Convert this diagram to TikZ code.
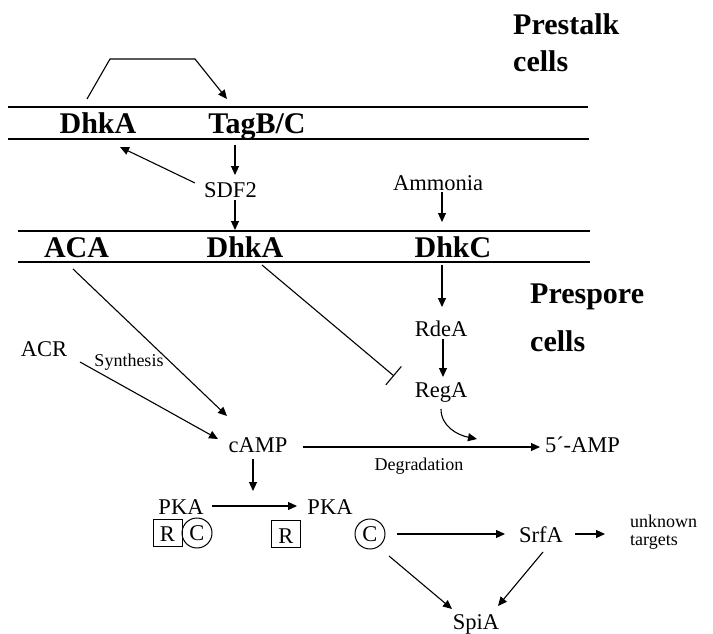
\documentclass[tikz,border=0pt]{standalone}
\usepackage{fontspec}
\setmainfont{Liberation Serif}
\usetikzlibrary{arrows.meta}
\begin{document}
\begin{tikzpicture}[x=1pt,y=-1pt,
  big/.style={font=\fontsize{30}{36}\selectfont\bfseries,inner sep=0pt,anchor=base},
  txt/.style={font=\fontsize{22.5}{27}\selectfont,inner sep=0pt,anchor=base},
  lbl/.style={font=\fontsize{18}{20}\selectfont,inner sep=0pt,anchor=base},
  memb/.style={line width=1.5pt},
  arr/.style={line width=1.1pt,-{Triangle[length=9pt,width=8pt]}},
  inh/.style={line width=1.1pt,-{Bar[width=24pt,line width=1.1pt]}},
  rbox/.style={draw,line width=1pt,minimum width=29pt,minimum height=27pt,inner sep=0pt,text height=18pt,text depth=0pt,font=\fontsize{22.5}{27}\selectfont},
  cbox/.style={draw,circle,line width=1pt,minimum size=30pt,inner sep=0pt,font=\fontsize{22.5}{27}\selectfont}
]
\useasboundingbox (0,0) rectangle (713,634);

% region titles
\node[big,anchor=base west] (prestalk) at (513,35) {Prestalk};
\node[big,anchor=base west] (pstcells) at (513,72) {cells};
\node[big,anchor=base west] (prespore) at (530,303) {Prespore};
\node[big,anchor=base west] (pspcells) at (530,351) {cells};

% membranes
\draw[memb] (8,107) -- (588,107);
\draw[memb] (8,139) -- (589,139);
\draw[memb] (18,231) -- (590,231);
\draw[memb] (18,262) -- (590,262);

% membrane proteins
\node[big] (dhkA1) at (98,133) {DhkA};
\node[big] (tag) at (257,133) {TagB/C};
\node[big] (aca) at (76.5,257) {ACA};
\node[big] (dhkA2) at (245,257) {DhkA};
\node[big] (dhkC) at (453,257) {DhkC};

% other nodes
\node[txt] (sdf2) at (230.5,197) {SDF2};
\node[txt] (ammonia) at (438,190) {Ammonia};
\node[txt] (acr) at (44,356) {ACR};
\node[lbl] (synth) at (129,366) {Synthesis};
\node[txt] (rdea) at (441,336) {RdeA};
\node[txt] (rega) at (441,397) {RegA};
\node[txt] (camp) at (258,452) {cAMP};
\node[txt] (amp5) at (582.5,452) {5´-AMP};
\node[lbl] (degr) at (419,470) {Degradation};
\node[txt] (pka1) at (181,514) {PKA};
\node[txt] (pka2) at (330,514) {PKA};
\node[rbox] (r1) at (167.5,532.5) {R};
\node[cbox] (c1) at (197,533) {C};
\node[rbox] (r2) at (286,534) {R};
\node[cbox] (c2) at (370,534) {C};
\node[txt] (srfa) at (541,542) {SrfA};
\node[lbl,anchor=base west] (unk) at (630,527) {unknown};
\node[lbl,anchor=base west] (tgt) at (630,545) {targets};
\node[txt] (spia) at (476,629) {SpiA};

% connector end points
\coordinate (bA) at (87,99);
\coordinate (bB) at (110,59);
\coordinate (bC) at (195,59);
\coordinate (bD) at (227,99);
\coordinate (tagS) at (235,145);
\coordinate (sdfT) at (235,175);
\coordinate (sdfL) at (195,183);
\coordinate (dhkA1T) at (120,147);
\coordinate (sdfB) at (235,200);
\coordinate (dhkA2T) at (235,230);
\coordinate (ammB) at (442,192);
\coordinate (dhkCT) at (442,222);
\coordinate (dhkCB) at (442,265);
\coordinate (rdeaT) at (442,307);
\coordinate (rdeaB) at (443,339);
\coordinate (regaT) at (443,377);
\coordinate (dhkA2B) at (262,265);
\coordinate (regaL) at (394,376);
\coordinate (acaB) at (73,269);
\coordinate (campA) at (227,416);
\coordinate (acrR) at (80,362);
\coordinate (campB) at (218,439);
\coordinate (campR) at (303,447);
\coordinate (ampL) at (540,447);
\coordinate (regaB) at (441,409);
\coordinate (ampC) at (477,439);
\coordinate (campD) at (253,459);
\coordinate (pkaT) at (253,491);
\coordinate (pka1R) at (212,506);
\coordinate (pka2L) at (297,506);
\coordinate (c2R) at (397,534);
\coordinate (srfaL) at (505,534);
\coordinate (srfaR) at (575,534);
\coordinate (unkL) at (605,534);
\coordinate (c2B) at (389,556);
\coordinate (spiaL) at (452,609);
\coordinate (srfaB) at (543,552);
\coordinate (spiaR) at (498,606);

% connectors
\draw[arr] (bA) -- (bB) -- (bC) -- (bD);
\draw[arr] (tagS) -- (sdfT);
\draw[arr] (sdfL) -- (dhkA1T);
\draw[arr] (sdfB) -- (dhkA2T);
\draw[arr] (ammB) -- (dhkCT);
\draw[arr] (dhkCB) -- (rdeaT);
\draw[arr] (rdeaB) -- (regaT);
\draw[inh] (dhkA2B) -- (regaL);
\draw[arr] (acaB) -- (campA);
\draw[arr] (acrR) -- (campB);
\draw[arr] (campR) -- (ampL);
\draw[arr] (regaB) .. controls (441,426) and (457,435) .. (ampC);
\draw[arr] (campD) -- (pkaT);
\draw[arr] (pka1R) -- (pka2L);
\draw[arr] (c2R) -- (srfaL);
\draw[arr] (srfaR) -- (unkL);
\draw[arr] (c2B) -- (spiaL);
\draw[arr] (srfaB) -- (spiaR);
\end{tikzpicture}
\end{document}
